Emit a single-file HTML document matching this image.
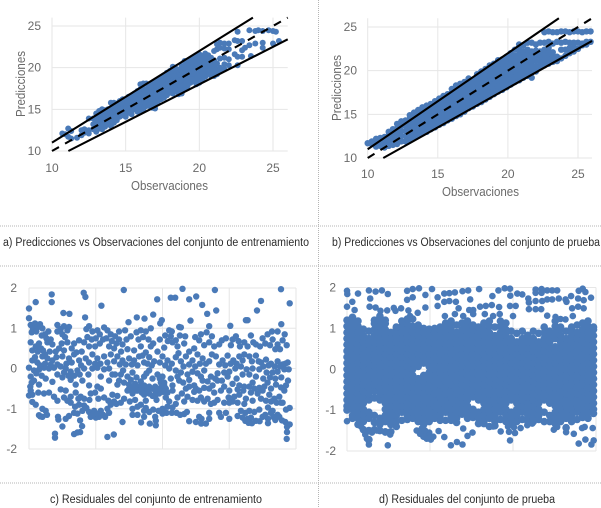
<!DOCTYPE html>
<html lang="es">
<head>
<meta charset="utf-8">
<title>Predicciones y residuales</title>
<style>
html,body{margin:0;padding:0;background:#fff;width:601px;height:508px;overflow:hidden}
svg{display:block;font-family:"Liberation Sans",sans-serif;filter:blur(.3px)}
.rule{stroke:#b5b5b5;stroke-width:1;stroke-dasharray:1 1;fill:none}
.caption{font-size:11.5px;fill:#2c2c2c}
.tick{font-size:12px;fill:#6a6a6a}
.axis-title{font-size:12.5px;fill:#6a6a6a}
.grid{stroke:#e6e6e6;stroke-width:1;fill:none}
</style>
</head>
<body>
<svg id="figure" width="601" height="508" viewBox="0 0 601 508" xmlns="http://www.w3.org/2000/svg">
  <rect width="601" height="508" fill="#fff"/>
  <line class="rule" x1="318.5" y1="0" x2="318.5" y2="508"/>
  <line class="rule" x1="0" y1="226" x2="601" y2="226"/>
  <line class="rule" x1="0" y1="266" x2="601" y2="266"/>
  <line class="rule" x1="0" y1="483" x2="601" y2="483"/>
  <g id="panel-a"></g>
  <g id="panel-b"></g>
  <g id="panel-c"></g>
  <g id="panel-d"></g>
  <text class="caption" x="3" y="246" textLength="306" lengthAdjust="spacingAndGlyphs">a) Predicciones vs Observaciones del conjunto de entrenamiento</text>
  <text class="caption" x="332" y="246" textLength="268" lengthAdjust="spacingAndGlyphs">b) Predicciones vs Observaciones del conjunto de prueba</text>
  <text class="caption" x="50" y="503" textLength="212" lengthAdjust="spacingAndGlyphs">c) Residuales del conjunto de entrenamiento</text>
  <text class="caption" x="379" y="503" textLength="176" lengthAdjust="spacingAndGlyphs">d) Residuales del conjunto de prueba</text>
</svg>
<script>
// Tick labels
const scatterTicks = [10, 15, 20, 25];
const residualTicks = [2, 1, 0, -1, -2];
const trainIndexTicks = [0, 200, 400, 600, 800];
const testIndexTicks = [0, 500, 1000, 1500];
// Reference lines: prediction = slope x observation
const upperSlope = [1.1];
const idealSlope = [1];
const lowerSlope = [0.9];

// Panel a: [observation, [predictions]]
const trainPredictions = [
[10.7,[12.1]],[10.9,[12]],[11.1,[12.7,11.7]],[11.3,[11.5,12.4]],[11.7,[11.6]],[12,[12.5,11.9]],[12.2,[12.6,12.2]],
[12.5,[13.9,12.5,12.1]],[12.8,[13.2,12.6,13.9]],[13,[14.5,13.6,12.8,12.3]],[13.2,[14.8,14,13.3,12.7]],[13.4,[15,14.3,13.6,13,12.6]],
[13.6,[14.9,14.2,13.5,12.9]],[13.8,[15,14.3,13.7,13.2]],[14,[15.8,15,14.3,13.6,13]],[14.2,[15.8,15.1,14.5,13.9,13.4]],[14.4,[15.7,14.9,14.3,13.7]],
[14.6,[16,15.4,14.7,14.1]],[14.8,[16.2,15.5,14.9,14.3]],[15,[16.2,15.6,15,14.4,14.1]],[15.2,[16.5,15.9,15.2,14.6]],[15.4,[16.6,16,15.4,14.8,14.4]],
[15.6,[16.9,16.3,15.6,15]],[15.8,[17.2,16.5,15.9,15.2,14.7]],[16,[18,17.4,16.7,16.1,15.5,14.9]],[16.2,[18.1,17.5,16.9,16.2,15.6,15]],[16.4,[18.1,17.4,16.8,16.1,15.4]],
[16.6,[17.9,17.3,16.6,16,15.4]],[16.8,[18.1,17.4,16.8,16.2,15.6,15.2]],[17,[18.3,17.7,17,16.4,15.7,15.1]],[17.2,[18.6,17.9,17.3,16.6,16]],[17.4,[18.8,18.1,17.5,16.9,16.2]],
[17.6,[19.1,18.4,17.7,17.1,16.4]],[17.8,[19.4,18.7,18,17.3,16.7]],[18,[19.6,18.9,18.2,17.6,17]],[18.2,[20.1,19.4,18.7,18,17.3,16.9]],[18.4,[19.9,19.2,18.5,17.8,17.2]],
[18.6,[19.5,18.8,18.1,17.4,16.8]],[18.8,[20.2,19.5,18.8,18.2,17.5,16.9]],[19,[20.8,20.1,19.4,18.7,18,17.4]],[19.2,[20.6,19.9,19.2,18.5,17.8]],[19.4,[21,20.3,19.6,18.9,18.2]],
[19.6,[21.2,20.5,19.8,19.1,18.4]],[19.8,[21.4,20.7,20,19.3,18.6,18]],[20,[21.6,20.9,20.2,19.5,18.8,18.2]],[20.2,[21.4,20.7,20,19.3,18.6]],[20.4,[21.7,21,20.3,19.6,18.9]],
[20.6,[21.5,20.8,20.1,19.4]],[20.8,[21.2,20.5,19.8,19]],[21,[22,20.9,20.2,19.5,19]],[21.2,[22.8,22.2,20.5,19.8,19.2]],[21.4,[23,22.4,21.1,20,19.7]],
[21.7,[22.9,22.3,21.2,20.4,19.8]],[22,[22.9,22.2,21,20.3]],[22.4,[23.3,21.6]],[22.6,[24.3,23.2,21.3,20.3]],[22.9,[23.2,22.1,21.3]],[23.1,[22.4]],
[23.4,[24.5,22.7]],[23.5,[21.4]],[23.8,[24.4,22.9]],[24,[24.5]],[24.3,[24.4,23,22.4]],[24.7,[24.5]],[25,[24.4,22.9]],[25.2,[24.3]],[25.4,[23.2]],
[13.1,[14.1,13.4,12.6]],[13.5,[14.6,13.9,13.2]],[13.9,[14.6,13.9,13.4]],[14.3,[15.4,14.8,14.1]],[14.7,[15.7,15,14.4]],[15.1,[15.9,15.3,14.7]],[15.5,[16.3,15.7,15.1]],[15.9,[16.9,16.2,15.6,15]],
[16.3,[17.2,16.5,15.9,15.3]],[16.7,[17.7,17,16.3,15.7]],[17.1,[18,17.4,16.7,16]],[17.5,[18.5,17.8,17.2,16.6]],[17.9,[19,18.4,17.7,17]],[18.3,[19.7,19,18.3,17.6]],[18.7,[19.8,19.1,18.5,17.8]],
[19.1,[20.4,19.8,19.1,18.3,17.7]],[19.5,[20.7,20,19.3,18.6]],[19.9,[21,20.4,19.7,19,18.3]],[20.3,[21.2,20.4,19.7,19]],[20.7,[21.1,20.5,19.7,19.2]]
];

// Panel b: [observation, [predictions]]
const testPredictions = [
[10,[11.7]],[10.3,[11.6,11.9]],[10.6,[11.3,11.8,12.2]],[10.9,[11.4,12,12.3]],[11.2,[11.2,11.8,12.4]],[11.5,[11.4,12,12.6,13]],[11.8,[11.5,12.1,12.7,13.3]],
[12.1,[11.6,12.2,12.8,13.4,13.9]],[12.4,[11.9,12.5,13.1,13.7,14.2]],[12.7,[11.9,12.5,13.1,13.7,14.3]],[13,[12.1,12.7,13.3,13.9,14.5,14.9]],[13.3,[12.4,13,13.6,14.2,14.8,15.2]],
[13.6,[12.6,13.2,13.8,14.4,15,15.5]],[13.9,[12.8,13.4,14,14.6,15.2,15.8]],[14.2,[13,13.6,14.2,14.8,15.4,16]],[14.5,[13.3,13.9,14.5,15.1,15.7,16.2]],[14.8,[13.5,14.1,14.7,15.3,15.9,16.5]],
[15.1,[13.8,14.4,15,15.6,16.2,16.8]],[15.4,[14,14.6,15.2,15.8,16.4,17.1]],[15.7,[14.3,14.9,15.5,16.1,16.7,17.3]],[16,[14.5,15.1,15.7,16.3,16.9,17.5,17.9]],[16.3,[14.8,15.4,16,16.6,17.2,17.8,18.3]],
[16.6,[15,15.6,16.2,16.8,17.4,18,18.5]],[16.9,[15.3,15.9,16.5,17.1,17.7,18.3,18.7]],[17.2,[15.7,16.3,16.9,17.5,18.1,18.7,19.1]],[17.5,[15.9,16.5,17.1,17.7,18.3,18.9]],[17.8,[16.2,16.8,17.4,18,18.6,19.2,19.6]],
[18.1,[16.4,17,17.6,18.2,18.8,19.4,19.9]],[18.4,[16.7,17.3,17.9,18.5,19.1,19.7,20.2]],[18.7,[17,17.6,18.2,18.8,19.4,20,20.6]],[19,[17.3,17.9,18.5,19.1,19.7,20.3,20.8]],[19.3,[17.6,18.2,18.8,19.4,20,20.6,21.2]],
[19.6,[17.8,18.4,19,19.6,20.2,20.8,21.3]],[19.9,[18.1,18.7,19.3,19.9,20.5,21.1,21.6]],[20.2,[18.4,19,19.6,20.2,20.8,21.4,22]],[20.5,[18.7,19.3,19.9,20.5,21.1,21.7,22.4]],[20.8,[18.9,19.5,20.1,20.7,21.3,21.9,22.5,23]],
[21.1,[19.2,19.8,20.4,21,21.6,22.2,22.9]],[21.4,[19.4,20,20.6,21.2,21.8,22.4,23.2]],[21.7,[19.2,19.8,20.4,21,21.6,22.2,23.2]],[22,[19.9,20.5,21.1,21.7,22.3,23]],[22.3,[20.4,21,21.6,22.2,23.2]],
[22.6,[20.6,21.2,21.8,22.4,23.2,24.4]],[22.9,[20.8,21.4,22,22.6,23.3,24.5]],[23.2,[21,21.6,22.1,23.1,24.4]],[23.5,[21.1,21.6,23.3,24.4]],[23.8,[21.4,22.4,23.2,24.5]],
[24.1,[21.7,22.4,23.3,24.5]],[24.4,[22,22.6,23.2,24.4]],[24.7,[22.2,22.7,23.2,24.5]],[25,[22.5,23.2,24.5]],[25.3,[22.9,23.1,24.4]],[25.6,[23,23.3,24.5]],[25.9,[23.3,24.5]]
];

// Panel c: [observation index, residual]
const trainResiduals = [
[0,1.49],[20,1.65],[68,1.84],[68,1.65],[0,1.25],[103,1.38],[121,1.36],[164,1.88],[169,1.78],[168,1.27],[217,1.56],[284,1.95],[298,1.15],[323,1.27],[346,1.24],[372,1.34],[384,1.72],[398,1.2],[393,1.12],[425,1.76],[438,1.76],[460,1.98],[480,1.72],[501,1.79],[519,1.58],[534,1.36],[557,1.95],[561,1.44],[484,1.19],[540,1.05],[603,1.06],[683,1.44],[695,1.68],[755,1.97],[781,1.62],[650,1.2],[655,1.2],[756,1.1],
[78,-1.62],[78,-1.72],[235,-1.7],[254,-1.64],[772,-1.75],[773,-1.58],[781,-1.39],[773,-1.45],[135,-1.63],[145,-1.59],[153,-1.58],[159,-1.43],[153,-1.29],[100,-1.44],[87,-1.2],[88,-1.27],[34,-1.19],[30,-1.16],[40,-1.2],[54,-1.15],[280,-1.33],[336,-1.34],[362,-1.37],[380,-1.41],[378,-1.2],[400,-1.12],[453,-1.15],[473,-1.08],[480,-1.31],[500,-1.33],[516,-1.37],[530,-1.37],[540,-1.25],[648,-1.3],[658,-1.35],[668,-1.36],[691,-1.31],[716,-1.36],[738,-1.28],[758,-1.29],[768,-1.33],
[5,1.08],[12,.98],[18,1.12],[25,1.02],[33,1.1],[40,1],[48,.85],[58,.92],[85,1.08],[95,.98],[105,1.05],[115,.95],[120,1.03],[85,.92],[100,.85],[172,.98],[180,1.05],[190,.92],[205,.95],[212,.85],[225,1.02],[235,.95],[245,.85],[258,.8],[270,.92],[288,.95],[322,.9],[335,.95],[350,.92],[365,1],[408,.82],[420,.95],[450,1.03],[425,.8],[440,.7],[455,1.02],[428,.92],
[5,.65],[20,.55],[30,.62],[42,.45],[55,.65],[70,.6],[90,.5],[105,.45],[115,.65],[135,.62],[150,.7],[165,.65],[180,.55],[200,.75],[222,.72],[240,.55],[255,.5],[270,.72],[280,.6],[295,.48],[315,.45],[335,.55],[350,.4],[365,.55],[385,.42],[405,.52],[430,.65],[445,.55],[465,.62],[480,.42],[495,.5],[510,.7],[525,.58],[540,.65],[555,.55],[570,.6],[590,.75],[605,.58],[620,.8],[632,.55],[645,.65],[665,.82],[680,.6],[700,.75],[715,.85],[730,.72],[745,.6],[760,.7],[772,.58],
[10,.2],[25,.15],[40,.3],[55,.25],[70,.2],[85,.1],[100,.3],[120,.25],[135,.35],[150,.2],[170,.25],[190,.35],[205,.25],[225,.3],[245,.35],[265,.3],[280,.2],[300,.25],[315,.2],[330,.3],[345,.15],[360,.28],[375,.18],[400,.3],[415,.2],[440,.28],[455,.18],[470,.3],[490,.2],[505,.35],[520,.25],[540,.18],[560,.3],[580,.2],[595,.32],[612,.2],[630,.3],[645,.35],[660,.3],[680,.32],[695,.15],[710,.22],[725,.12],[745,.18],[760,.1],[775,.15],
[0,.02],[15,-.05],[30,-.03],[45,.02],[60,0],[75,.02],[95,.05],[110,0],[125,-.08],[145,-.05],[165,0],[190,0],[205,.02],[225,-.02],[240,0],[258,-.15],[275,-.15],[295,-.2],[310,-.1],[325,.08],[345,-.2],[360,-.05],[385,-.15],[400,-.2],[420,0],[440,-.05],[455,-.1],[475,-.15],[490,-.08],[505,-.12],[525,-.05],[545,-.2],[565,-.12],[585,-.1],[600,-.08],[618,0],[635,.05],[652,-.02],[670,0],[690,-.02],[712,-.1],[730,-.1],[745,-.08],[765,-.02],[778,-.02],
[5,-.2],[15,-.3],[30,-.4],[50,-.25],[70,-.33],[100,-.22],[125,-.28],[140,-.4],[160,-.3],[180,-.42],[205,-.45],[240,-.3],[270,-.3],[285,-.35],[300,-.4],[318,-.38],[330,-.45],[350,-.5],[378,-.45],[395,-.35],[410,-.5],[430,-.42],[450,-.3],[470,-.5],[495,-.42],[520,-.3],[550,-.42],[565,-.3],[585,-.45],[610,-.38],[630,-.42],[645,-.45],[670,-.35],[690,-.48],[715,-.35],[740,-.4],[755,-.47],[770,-.42],
[5,-.55],[0,-.67],[10,-.65],[28,-.6],[45,-.62],[60,-.6],[75,-.7],[95,-.52],[110,-.55],[125,-.7],[140,-.6],[165,-.75],[181,-.78],[215,-.5],[225,-.72],[250,-.65],[265,-.68],[295,-.55],[310,-.62],[322,-.55],[338,-.6],[355,-.58],[370,-.68],[390,-.62],[410,-.72],[430,-.55],[445,-.72],[458,-.62],[475,-.7],[495,-.58],[515,-.72],[535,-.75],[555,-.6],[575,-.55],[598,-.72],[615,-.7],[630,-.65],[650,-.75],[665,-.6],[685,-.62],[700,-.55],[720,-.65],[735,-.75],[750,-.7],[765,-.55],
[10,-.83],[20,-.9],[40,-1],[50,-1.05],[85,-.8],[125,-.85],[138,-.95],[150,-.9],[165,-.92],[180,-1.08],[195,-1.05],[215,-1.05],[235,-1],[245,-.9],[262,-.88],[275,-.85],[310,-1],[325,-.95],[335,-.9],[345,-1.05],[360,-1.08],[400,-1],[415,-.95],[430,-.97],[555,-.85],[585,-.85],[610,-.82],[635,-1.05],[648,-1.1],[660,-1.05],[675,-1.08],[690,-1.02],[716,-.97],[730,-1.05],[745,-1.15],[760,-.85],[770,-1.02],[781,-.98],
[110,-1.25],[120,-1.18],[135,-1.1],[145,-1.12],[185,-1.2],[200,-1.22],[210,-1.2],[222,-1.15],[310,-1.15],[325,-1.15],[345,-1.2],[380,-1.3],[405,-1.08],[465,-1.13],[510,-1.2],[517,-1.25],[540,-1.1],[570,-1.1],[590,-1.1],[640,-1.22],[655,-1.25],[700,-1.2],[716,-1.25],[725,-1.1],
[8,.9],[22,.92],[38,.82],[52,.75],[65,.72],[10,.45],[26,.42],[36,.5],[48,.35],[62,.42],[80,.42],[98,.62],[108,.78],[128,.5],[142,.4],[158,.42],[175,.78],[188,.72],[198,.55],[212,.62],[232,.75],[248,.68],[262,.62],[276,.42],[292,.72],[305,.8],[328,.72],[342,.78],[358,.72],[372,.62],[392,.72],[416,.68],[452,.82],[468,.8],[498,.78],[515,.85],[532,.9],[548,.8],[578,.7],[610,.72],[628,.68],[655,.55],[672,.65],[692,.55],[708,.62],[722,.58],[738,.48],[752,.48],[766,.85],[728,.92],[745,.92],
[18,.28],[33,.08],[48,.12],[65,.1],[82,.28],[112,.12],[128,.15],[156,.08],[180,.15],[198,.12],[214,.12],[235,.15],[255,.18],[272,.1],[290,.1],[308,.1],[340,.32],[355,.12],[368,.08],[392,.15],[408,.08],[428,.12],[448,.38],[463,.05],[480,.1],[498,.05],[512,.12],[530,.12],[548,.35],[570,.1],[588,.08],[604,.12],[622,.12],[640,.2],[668,.18],[688,.18],[702,.05],[718,.08],[736,.05],[752,.05],[768,.12],
[22,-.12],[38,-.18],[8,-.35],[4,-.45],[85,-.15],[105,-.1],[118,-.18],[135,-.18],[152,-.15],[178,-.15],[215,-.2],[250,-.15],[265,-.4],[282,-.05],[305,-.28],[322,-.22],[335,-.32],[352,-.12],[370,-.25],[392,-.25],[405,-.35],[425,-.25],[445,-.2],[462,-.35],[480,-.28],[515,-.2],[535,-.32],[558,-.25],[578,-.3],[595,-.2],[622,-.25],[640,-.15],[660,-.15],[680,-.2],[702,-.25],[722,-.22],[738,-.25],[756,-.22],[776,-.3],
[300,-.5],[312,-.48],[325,-.55],[338,-.5],[345,-.42],[360,-.45],[368,-.5],[378,-.55],[385,-.52],[395,-.48],[402,-.58],[345,-.65],[360,-.62],[378,-.68],[390,-.5],[405,-.42],[415,-.6],[480,-.45],[500,-.5],[510,-.55],[525,-.48],[540,-.5],[600,-.55],[625,-.52],[642,-.55],[660,-.45],[675,-.5],[705,-.45],[725,-.5],
[105,-.72],[115,-.8],[148,-.75],[155,-.7],[185,-.62],[198,-.6],[208,-.75],[238,-.8],[255,-.82],[285,-.75],[302,-.82],[318,-.78],[350,-.8],[382,-.78],[420,-.82],[440,-.88],[465,-.82],[490,-.78],[505,-.8],[525,-.82],[545,-.88],[565,-.78],[600,-.85],[625,-.85],[645,-.88],[670,-.8],[695,-.75],[710,-.8],[725,-.82],[742,-.85],[755,-.85],
[160,-1.05],[172,-.98],[190,-1.15],[205,-1.12],[228,-1.2],[240,-1.1],[350,-.98],[372,-1.02],[388,-1.05],[412,-1.1],[428,-1.1],[442,-1.1],[575,-1.2],[600,-1.25],[625,-1.18],[665,-1.22],[680,-1.3],[708,-1.15],[732,-1.2],[750,-1.2]
];

// Panel d: individually visible points [observation index, residual]
const testOutliers = [
[0,1.92],[2,1.84],[66,1.85],[132,1.93],[172,1.9],[210,1.93],[246,1.84],[140,1.73],[136,1.53],[172,1.51],[0,1.53],[32,1.65],[46,1.45],[202,1.43],[242,1.44],[282,1.5],[292,1.43],[326,1.49],[370,1.44],[362,1.92],[396,1.96],[434,1.98],[512,1.96],[472,1.82],[362,1.7],[396,1.76],[472,1.51],[426,1.38],[546,1.76],[546,1.55],[586,1.85],[616,1.86],[650,1.88],[696,1.91],[730,1.93],[796,1.96],[586,1.65],[616,1.67],[656,1.65],[742,1.71],[672,1.49],[736,1.45],[760,1.45],[802,1.53],[836,1.55],[872,1.57],[916,1.52],[876,1.79],[912,1.93],[950,1.98],[982,1.97],[984,1.8],[1026,1.85],[1056,1.83],[982,1.55],[1016,1.55],[1092,1.73],[1136,1.95],[1172,1.96],[1206,1.93],[1236,1.93],[1266,1.93],[1136,1.87],[1172,1.87],[1096,1.63],[1136,1.67],[1176,1.67],[1206,1.71],[1236,1.71],[1276,1.73],[1316,1.71],[1350,1.79],[1322,1.65],[1096,1.47],[1136,1.47],[1170,1.47],[1206,1.31],[1256,1.28],[1286,1.23],[1316,1.22],[1360,1.3],[1356,1.49],[1392,1.53],[1426,1.49],[1396,1.92],[1420,1.97],[1436,1.89],[1392,1.73],[1426,1.69],[1470,1.75],[380,1.3],[590,1.3],[650,1.35],[700,1.3],[760,1.35],[830,1.35],[880,1.3],[920,1.35],[1000,1.3],
[0,-1.27],[132,-1.84],[246,-1.86],[552,-1.51],[586,-1.66],[626,-1.86],[662,-1.78],[696,-1.84],[726,-1.63],[756,-1.55],[982,-1.74],[926,-1.52],[976,-1.53],[1012,-1.56],[1396,-1.82],[1436,-1.72],[1472,-1.84],[1486,-1.74],[1480,-1.44],[1416,-1.44],[1432,-1.41],[1366,-1.58],[1320,-1.54],[1086,-1.37],[1046,-1.44],[1116,-1.33],[1246,-1.48],[1266,-1.41],[110,-1.6],[120,-1.7],[130,-1.75],[105,-1.5],[85,-1.4],[150,-1.55],[180,-1.5],[420,-1.5],[440,-1.58],[460,-1.65],[480,-1.7],[505,-1.72],[520,-1.65],[495,-1.55],[470,-1.5],[450,-1.45],[700,-1.45],[880,-1.4],[970,-1.4],[1006,-1.42],[230,-1.55],[260,-1.6]
];

// Panel d: dense core columns [observation index, [residuals]]
const testCore = [
[0,[-1,-.9,-.75,-.6,-.45,-.3,-.15,0,.15,.3,.45,.6,.75,.9,1.05,1.2]],
[33,[-1.2,-1.13,-.98,-.83,-.68,-.53,-.38,-.23,-.08,.07,.22,.37,.52,.67,.82,.97,1.12,1.27]],
[66,[-1.35,-1.2,-1.05,-.9,-.75,-.6,-.45,-.3,-.15,0,.15,.3,.45,.6,.75,.9,1.05,1.18]],
[99,[-1.48,-1.28,-1.13,-.98,-.83,-.68,-.53,-.38,-.23,-.08,.07,.22,.37,.52,.67,.82,.98]],
[132,[-1.72,-1.5,-1.2,-1.05,-.75,-.6,-.45,-.3,-.15,0,.15,.3,.45,.6,.75,.93]],
[165,[-1.48,-1.3,-1.13,-.7,-.53,-.38,-.23,-.08,.07,.22,.37,.52,.67,.82,.97,1.12,1.2]],
[198,[-1.5,-1.35,-1.2,-.75,-.6,-.45,-.3,-.15,0,.15,.3,.45,.6,.75,.9,1.05,1.2,1.3]],
[231,[-1.53,-1.28,-1.13,-.98,-.83,-.68,-.53,-.38,-.23,-.08,.07,.22,.37,.52,.67,.82,.97,1.12,1.2]],
[264,[-1.53,-1.35,-1.2,-1.05,-.9,-.75,-.6,-.45,-.3,-.15,0,.15,.3,.45,.6,.75,.9]],
[297,[-1.4,-1.28,-1.13,-.98,-.83,-.68,-.53,-.38,-.23,-.08,.07,.22,.37,.52,.67,.82,.97,1.03]],
[330,[-1.25,-1.05,-.9,-.75,-.6,-.45,-.3,-.15,0,.15,.3,.45,.6,.75,.9,1.05,1.18]],
[363,[-1.23,-1.13,-.98,-.83,-.68,-.53,-.38,-.23,-.08,.07,.22,.37,.52,.67,.82,.97,1.12,1.23]],
[396,[-1.2,-1.05,-.9,-.75,-.6,-.45,-.3,-.15,0,.15,.3,.45,.6,.75,.9,1.05,1.23]],
[429,[-1.28,-1.13,-.98,-.83,-.68,-.53,-.38,-.23,.07,.22,.37,.52,.67,.82,.97,1.08]],
[462,[-1.58,-1.35,-1.2,-1.05,-.9,-.75,-.6,-.45,-.3,-.15,.15,.3,.45,.6,.75,.9,1]],
[495,[-1.63,-1.28,-1.13,-.98,-.83,-.68,-.53,-.38,-.23,-.08,.07,.22,.37,.52,.67,.82,.98]],
[528,[-1.2,-1.05,-.9,-.75,-.6,-.45,-.3,-.15,0,.15,.3,.45,.6,.75,.9,1]],
[561,[-1.25,-1.13,-.98,-.83,-.68,-.53,-.38,-.23,-.08,.07,.22,.37,.52,.67,.82,.97,1.03]],
[594,[-1.25,-1.05,-.9,-.75,-.6,-.45,-.3,-.15,0,.15,.3,.45,.6,.75,.9,1.05,1.13]],
[627,[-1.25,-1.13,-.98,-.83,-.68,-.53,-.38,-.23,-.08,.07,.22,.37,.52,.67,.82,.97,1.12,1.18]],
[660,[-1.3,-1.2,-1.05,-.9,-.75,-.6,-.45,-.3,-.15,0,.15,.3,.45,.6,.75,.9,1.08]],
[693,[-1.1,-.98,-.83,-.68,-.53,-.38,-.23,-.08,.07,.22,.37,.52,.67,.82,.97,1.13]],
[726,[-1.2,-1.05,-.9,-.75,-.6,-.45,-.3,-.15,0,.15,.3,.45,.6,.75,.9,1.05,1.18]],
[759,[-1.18,-1.13,-.98,-.68,-.53,-.38,-.23,-.08,.07,.22,.37,.52,.67,.82,.97,1.08]],
[792,[-1.33,-1.2,-1.05,-.75,-.6,-.45,-.3,-.15,0,.15,.3,.45,.6,.75,.9,1.03]],
[825,[-1.33,-1.28,-1.13,-.98,-.83,-.68,-.53,-.38,-.23,-.08,.07,.22,.37,.52,.67,.82,.97,1.13]],
[858,[-1.4,-1.2,-1.05,-.9,-.75,-.6,-.45,-.3,-.15,0,.15,.3,.45,.6,.75,.9,1.05,1.18]],
[891,[-1.38,-1.28,-1.13,-.98,-.83,-.68,-.53,-.38,-.23,-.08,.07,.22,.37,.52,.67,.82,1.03]],
[924,[-1.23,-1.05,-.9,-.75,-.6,-.45,-.3,-.15,0,.15,.3,.45,.6,.75,.9,1.05,1.18]],
[957,[-1.28,-1.13,-.98,-.83,-.68,-.53,-.38,-.23,-.08,.07,.22,.37,.52,.67,.82,.97,1.13]],
[990,[-1.33,-1.2,-1.05,-.75,-.6,-.45,-.3,-.15,0,.15,.3,.45,.6,.75,.93]],
[1023,[-1.28,-1.13,-.98,-.83,-.68,-.53,-.38,-.23,-.08,.07,.22,.37,.52,.67,.88]],
[1056,[-1.23,-1.05,-.9,-.75,-.6,-.45,-.3,-.15,0,.15,.3,.45,.6,.75,.93]],
[1089,[-1.28,-1.13,-.98,-.83,-.68,-.53,-.38,-.23,-.08,.07,.22,.37,.52,.67,.83]],
[1122,[-1.28,-1.2,-1.05,-.9,-.75,-.6,-.45,-.3,-.15,0,.15,.3,.45,.6,.75,.93]],
[1155,[-1.23,-1.13,-.98,-.83,-.68,-.53,-.38,-.23,-.08,.07,.22,.37,.52,.67,.88]],
[1188,[-1.28,-1.05,-.75,-.6,-.45,-.3,-.15,0,.15,.3,.45,.6,.75,.9,1.03]],
[1221,[-1.28,-1.13,-.83,-.68,-.53,-.38,-.23,-.08,.07,.22,.37,.52,.67,.82,.93]],
[1254,[-1.33,-1.2,-1.05,-.9,-.75,-.6,-.45,-.3,-.15,0,.15,.3,.45,.55,.75,.9,1.05,1.18]],
[1287,[-1.28,-1.13,-.98,-.83,-.68,-.53,-.38,-.23,-.08,.07,.22,.37,.52,.67,.82,.97,1.03]],
[1320,[-1.43,-1.2,-1.05,-.9,-.75,-.6,-.45,-.3,-.15,0,.15,.3,.45,.6,.75,.93]],
[1353,[-1.28,-1.13,-.98,-.83,-.68,-.53,-.38,-.23,-.08,.07,.22,.37,.52,.67,.82,.97,1.03]],
[1386,[-1.23,-1.05,-.9,-.75,-.6,-.45,-.3,-.15,0,.15,.3,.45,.6,.75,.9,1.08]],
[1419,[-1.18,-1.13,-.98,-.83,-.68,-.53,-.38,-.23,-.08,.07,.22,.37,.52,.67,.82,.97,1.13]],
[1452,[-1.2,-1.05,-.9,-.75,-.6,-.45,-.3,-.15,0,.15,.3,.45,.6,.75,.9,1.05,1.18]],
[1485,[-1.08,-.98,-.83,-.68,-.53,-.38,-.23,-.08,.07,.22,.37,.52,.67,.82,.97,1.03]]
];

const SVGNS = 'http://www.w3.org/2000/svg';
const DOT_COLOR = '#4a7ab8';

function linear(d0, d1, r0, r1) {
  return function (v) { return r0 + (v - d0) * (r1 - r0) / (d1 - d0); };
}
function svgEl(tag, parent) {
  const el = document.createElementNS(SVGNS, tag);
  parent.appendChild(el);
  return el;
}
function gridLine(parent, x1, y1, x2, y2) {
  const el = svgEl('line', parent);
  
  
  el.setAttribute('class', 'grid');
  el.setAttribute('x1', x1); el.setAttribute('y1', y1);
  el.setAttribute('x2', x2); el.setAttribute('y2', y2);
}
function tickLabel(parent, x, y, anchor, value) {
  const el = svgEl('text', parent);
  
  
  el.setAttribute('class', 'tick');
  el.setAttribute('x', x); el.setAttribute('y', y);
  el.setAttribute('text-anchor', anchor);
  el.textContent = value;
}
function axisTitle(parent, text, x, y, len, rotated) {
  const el = svgEl('text', parent);
  
  
  el.setAttribute('class', 'axis-title');
  el.setAttribute('text-anchor', 'start');
  el.setAttribute('textLength', len);
  el.setAttribute('lengthAdjust', 'spacingAndGlyphs');
  if (rotated) {
    el.setAttribute('transform', 'translate(' + x + ' ' + y + ') rotate(-90)');
  } else {
    el.setAttribute('x', x); el.setAttribute('y', y);
  }
  el.textContent = text;
}
function dot(parent, x, y, r) {
  const el = svgEl('circle', parent);
  
  
  el.setAttribute('cx', x.toFixed(1));
  el.setAttribute('cy', y.toFixed(1));
  el.setAttribute('r', r);
  el.setAttribute('fill', DOT_COLOR);
}
function refLine(parent, sx, sy, slope, dash, xMin, xMax, yMin, yMax) {
  let a = xMin, b = xMax;
  if (slope * a < yMin) a = yMin / slope;
  if (slope * b > yMax) b = yMax / slope;
  const el = svgEl('line', parent);
  
  
  el.setAttribute('x1', sx(a)); el.setAttribute('y1', sy(slope * a));
  el.setAttribute('x2', sx(b)); el.setAttribute('y2', sy(slope * b));
  el.setAttribute('stroke', '#000');
  el.setAttribute('stroke-width', 2.1);
  if (dash) el.setAttribute('stroke-dasharray', '8 7');
}

function drawScatter(id, box, titles, columns, r) {
  const g = document.getElementById(id);
  const sx = linear(10, 25, box.x10, box.x25);
  const sy = linear(10, 25, box.y10, box.y25);
  scatterTicks.forEach(function (t) {
    gridLine(g, sx(t), sy(26), sx(t), sy(10));
    gridLine(g, sx(10), sy(t), sx(26), sy(t));
    tickLabel(g, box.yLabelX, sy(t) + 4, 'end', t);
    tickLabel(g, sx(t), box.xLabelY, 'middle', t);
  });
  columns.forEach(function (col) {
    col[1].forEach(function (v) { dot(g, sx(col[0]), sy(v), r); });
  });
  refLine(g, sx, sy, upperSlope[0], false, 10, 26, 10, 26);
  refLine(g, sx, sy, idealSlope[0], true, 10, 26, 10, 26);
  refLine(g, sx, sy, lowerSlope[0], false, 10, 26, 10, 26);
  axisTitle(g, 'Observaciones', titles.xx, titles.xy, 77, false);
  axisTitle(g, 'Predicciones', titles.yx, titles.yy, 66, true);
}

function drawResiduals(id, box, xTicks, xMax, r) {
  const g = document.getElementById(id);
  const sx = linear(0, xMax, box.left, box.right);
  const sy = linear(-2, 2, box.yBottom, box.yTop);
  residualTicks.forEach(function (t) {
    gridLine(g, box.left, sy(t), box.right, sy(t));
    tickLabel(g, box.labelX, sy(t) + 4, 'end', t);
  });
  xTicks.forEach(function (t) { gridLine(g, sx(t), box.yTop, sx(t), box.yBottom); });
  return { g: g, sx: sx, sy: sy, r: r };
}

drawScatter('panel-a',
  { x10: 52, x25: 273, y10: 151, y25: 26, yLabelX: 41, xLabelY: 172 },
  { xx: 131, xy: 190, yx: 25, yy: 117 }, trainPredictions, 3);
drawScatter('panel-b',
  { x10: 367.7, x25: 578, y10: 158, y25: 27, yLabelX: 357, xLabelY: 178 },
  { xx: 442, xy: 196, yx: 341, yy: 121 }, testPredictions, 3.2);

const panelC = drawResiduals('panel-c',
  { left: 29, right: 296, yTop: 288, yBottom: 449, labelX: 17 }, trainIndexTicks, 800, 3.2);
trainResiduals.forEach(function (p) {
  dot(panelC.g, panelC.sx(p[0]), panelC.sy(p[1]), panelC.r);
});

const panelD = drawResiduals('panel-d',
  { left: 347, right: 596, yTop: 287.5, yBottom: 451, labelX: 336 }, testIndexTicks, 1500, 3.8);
testCore.forEach(function (col) {
  col[1].forEach(function (v) { dot(panelD.g, panelD.sx(col[0]), panelD.sy(v), panelD.r); });
});
testOutliers.forEach(function (p) {
  dot(panelD.g, panelD.sx(p[0]), panelD.sy(p[1]), 3.3);
});
</script>
</body>
</html>
